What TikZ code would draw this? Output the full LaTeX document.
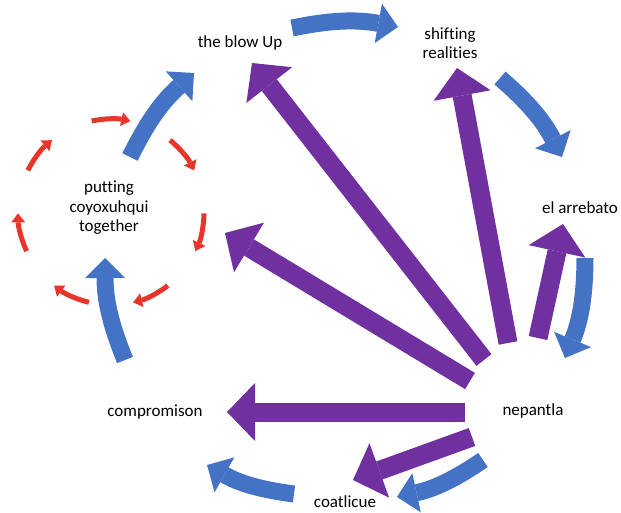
\documentclass[tikz,border=0pt]{standalone}
\usepackage{fontspec}
\setmainfont{Carlito}[Ligatures=CommonOff]
\usetikzlibrary{arrows.meta}
\definecolor{stageblue}{HTML}{4472C4}
\definecolor{jumppurple}{HTML}{7030A0}
\definecolor{loopred}{RGB}{232,53,41}
\begin{document}
\begin{tikzpicture}[x=1pt, y=1pt,
  every node/.style={font=\fontsize{17}{19.5}\selectfont, align=center, inner sep=0pt},
  roundarrow/.style={draw=stageblue, line width=17pt, bend left=11,
    -{Triangle[width=40pt,length=20pt,line width=0pt]}},
  jumparrow/.style={draw=jumppurple, line width=19pt,
    -{Triangle[width=58pt,length=28pt,line width=0pt]}},
  loopdash/.style={draw=loopred, line width=5pt,
    -{Triangle[width=14pt,length=9pt,line width=0pt]}}]
\useasboundingbox (0,0) rectangle (621,-513);
% stages
\node (blowup) at (240,-43) {the blow Up};
\node (shifting) at (450,-43) {shifting\\realities};
\node (arrebato) at (580,-208) {el arrebato};
\node (nepantla) at (533,-411) {nepantla};
\node (coatlicue) at (345,-502) {coatlicue};
\node (compromison) at (155,-412) {compromison};
\node (putting) at (109,-208) {putting\\coyoxuhqui\\together};
% ends of the round arrows
\coordinate (b1s) at (292,-28);  \coordinate (b1e) at (398,-27);
\coordinate (b2s) at (500,-78);  \coordinate (b2e) at (562,-157);
\coordinate (b3s) at (585,-258); \coordinate (b3e) at (565,-358);
\coordinate (b4s) at (483,-460); \coordinate (b4e) at (397,-497);
\coordinate (b5s) at (294,-494); \coordinate (b5e) at (207,-465);
\coordinate (b6s) at (125,-360); \coordinate (b6e) at (105,-258);
\coordinate (b7s) at (130,-157); \coordinate (b7e) at (194,-73);
\draw[roundarrow] (b1s) to (b1e);
\draw[roundarrow] (b2s) to (b2e);
\draw[roundarrow] (b3s) to (b3e);
\draw[roundarrow] (b4s) to (b4e);
\draw[roundarrow] (b5s) to (b5e);
\draw[roundarrow] (b6s) to (b6e);
\draw[roundarrow] (b7s) to (b7e);
% jumps out of nepantla
\coordinate (p1s) at (465,-412); \coordinate (p1e) at (227,-412);
\coordinate (p2s) at (472,-437); \coordinate (p2e) at (353,-480);
\coordinate (p3s) at (470,-381); \coordinate (p3e) at (225,-233);
\coordinate (p4s) at (484,-360); \coordinate (p4e) at (252,-63);
\coordinate (p5s) at (508,-343); \coordinate (p5e) at (457,-68);
\coordinate (p6s) at (538,-338); \coordinate (p6e) at (563,-224);
\draw[jumparrow] (p1s) -- (p1e);
\draw[jumparrow] (p2s) -- (p2e);
\draw[jumparrow] (p3s) -- (p3e);
\draw[jumparrow] (p4s) -- (p4e);
\draw[jumparrow] (p5s) -- (p5e);
\draw[jumparrow] (p6s) -- (p6e);
% dashed loop round putting coyoxuhqui together
\coordinate (loop) at (111,-212);
\foreach \k in {0,...,6}
  \draw[loopdash] ([shift={(102-\k*51.43:93)}]loop) arc[start angle=102-\k*51.43, delta angle=-24, radius=93];
\end{tikzpicture}
\end{document}
